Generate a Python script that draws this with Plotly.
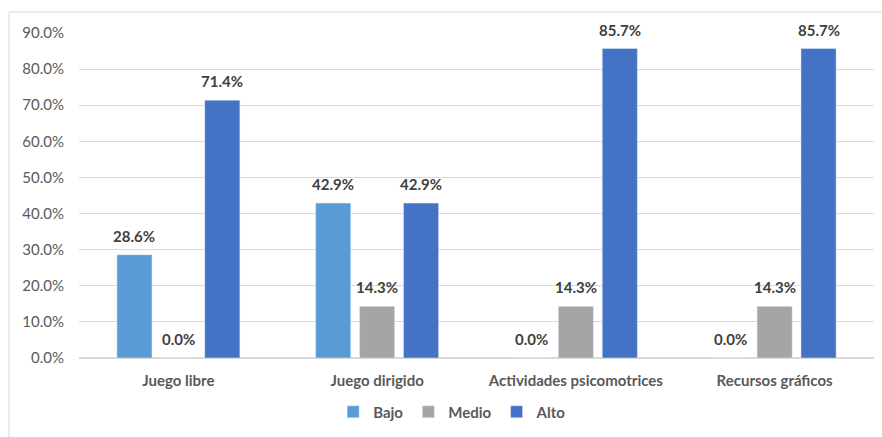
import plotly.graph_objects as go

categories = ["Juego libre", "Juego dirigido", "Actividades psicomotrices", "Recursos gráficos"]
bajo = [0.286, 0.429, 0.0, 0.0]
medio = [0.0, 0.143, 0.143, 0.143]
alto = [0.714, 0.429, 0.857, 0.857]
series = [("Bajo", bajo, "#5B9BD5"), ("Medio", medio, "#A5A5A5"), ("Alto", alto, "#4472C4")]
yticks = [0.0, 0.1, 0.2, 0.3, 0.4, 0.5, 0.6, 0.7, 0.8, 0.9]

FONT = "Lato, Open Sans, sans-serif"
W, H = 882, 437
L, R, T, B = 79, 8, 33, 79
fig = go.Figure()
slot_px = 44  # horizontal distance between bar centres within a group
for i, (name, vals, color) in enumerate(series):
    fig.add_trace(go.Bar(
        name=name, x=categories, y=vals, marker_color=color,
    ))
    for c, v in zip(categories, vals):
        fig.add_annotation(
            x=c, y=v, xref="x", yref="y", xshift=(i - 1) * slot_px, yshift=8,
            yanchor="bottom", showarrow=False, text=f"{v*100:.1f}%",
            font=dict(family=FONT, size=15, color="#404040", weight="bold"),
        )

fig.update_layout(
    width=W, height=H,
    margin=dict(l=L, r=R, t=T, b=B, autoexpand=False),
    paper_bgcolor="white", plot_bgcolor="white",
    barmode="group", bargap=0.337, bargroupgap=0.2,
    font=dict(family=FONT, color="#595959", size=14),
    legend=dict(orientation="h", x=0.47, xanchor="center",
                y=1 - 412 / H, yanchor="middle", yref="container",
                font=dict(family=FONT, size=15, color="#595959", weight="bold"),
                itemwidth=30, tracegroupgap=0),
)
fig.update_yaxes(range=[0, 0.9], tickvals=yticks, tickformat=".1%",
                 showgrid=True, gridcolor="#D9D9D9", gridwidth=1,
                 zeroline=True, zerolinecolor="#D9D9D9", showline=False,
                 ticks="", tickfont=dict(size=15, color="#595959"), ticklabelstandoff=14)
fig.update_xaxes(showline=False, ticks="", ticklabelstandoff=12,
                 tickfont=dict(size=15, color="#595959", weight="bold"))

# chart border (top and left visible)
pw, ph = W - L - R, H - T - B
fig.add_shape(type="rect", xref="paper", yref="paper",
              x0=(9 - L) / pw, x1=(W + 5 - L) / pw,
              y0=-(H + 5 - (H - B)) / ph, y1=((H - B) - 12) / ph,
              line=dict(color="#D9D9D9", width=1), layer="below")

fig.write_html("out.html")
